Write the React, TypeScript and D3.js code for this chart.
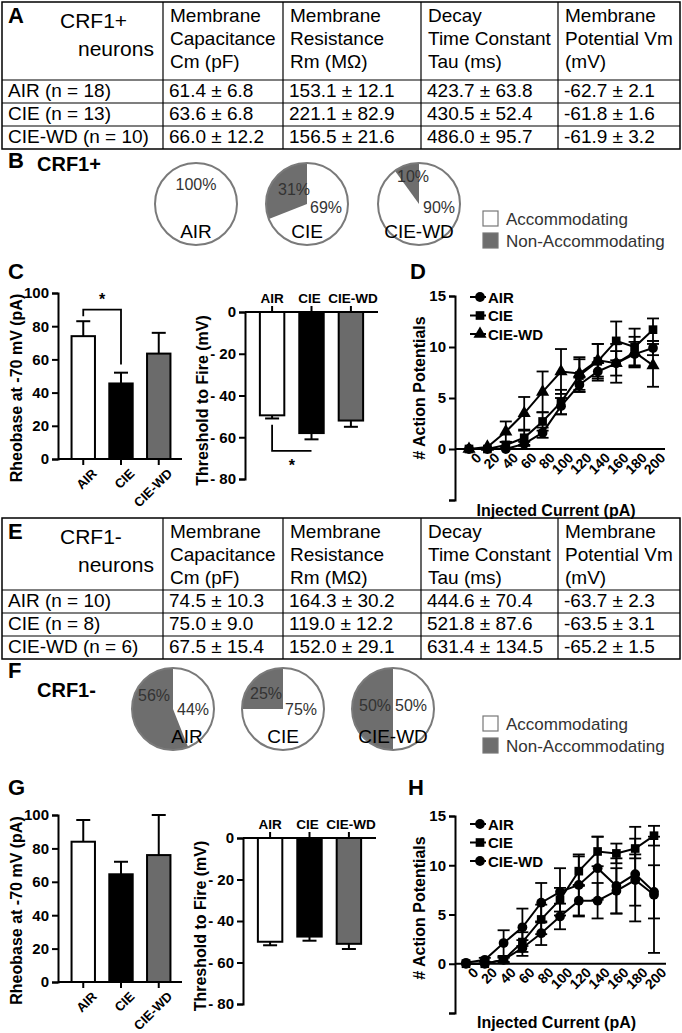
import React, { useEffect, useRef } from "react";
import * as d3 from "d3";

// ---- data ----
const groups = ["AIR", "CIE", "CIE-WD"];
const tableHeaders = [
  ["Membrane", "Capacitance", "Cm (pF)"],
  ["Membrane", "Resistance", "Rm (MΩ)"],
  ["Decay", "Time Constant", "Tau (ms)"],
  ["Membrane", "Potential Vm", "(mV)"],
];
const posRows = [
  ["AIR (n = 18)", "61.4 ± 6.8", "153.1 ± 12.1", "423.7 ± 63.8", "-62.7 ± 2.1"],
  ["CIE (n = 13)", "63.6 ± 6.8", "221.1 ± 82.9", "430.5 ± 52.4", "-61.8 ± 1.6"],
  ["CIE-WD (n = 10)", "66.0 ± 12.2", "156.5 ± 21.6", "486.0 ± 95.7", "-61.9 ± 3.2"],
];
const negRows = [
  ["AIR (n = 10)", "74.5 ± 10.3", "164.3 ± 30.2", "444.6 ± 70.4", "-63.7 ± 2.3"],
  ["CIE (n = 8)", "75.0 ± 9.0", "119.0 ± 12.2", "521.8 ± 87.6", "-63.5 ± 3.1"],
  ["CIE-WD (n = 6)", "67.5 ± 15.4", "152.0 ± 29.1", "631.4 ± 134.5", "-65.2 ± 1.5"],
];

// % non-accommodating
const posNonAcc = [0, 31, 10];
const negNonAcc = [56, 25, 50];

const rheoPos = [74, 45.5, 63.5];
const rheoPosSem = [9, 6.5, 12.5];
const threshPos = [-49.5, -58, -52];
const threshPosSem = [1.5, 3, 3];
const rheoNeg = [84, 64.5, 76];
const rheoNegSem = [13, 7.5, 24];
const threshNeg = [-50, -47.5, -51];
const threshNegSem = [1.7, 2, 2.5];

const current = [0, 20, 40, 60, 80, 100, 120, 140, 160, 180, 200];
const apPosAir = [0, 0, 0, 0.5, 1.6, 4.2, 6.3, 7.6, 8.4, 9.3, 9.9];
const apPosAirSem = [0, 0, 0, 0.2, 0.5, 0.8, 0.7, 0.9, 1.2, 1.2, 0.7];
const apPosCie = [0, 0, 0.4, 1.1, 2.7, 4.6, 7.2, 8.6, 10.6, 10.0, 11.7];
const apPosCieSem = [0, 0, 0.3, 0.7, 0.9, 1.2, 1.6, 1.7, 1.9, 1.8, 1.1];
const apPosWd = [0, 0.2, 1.7, 3.5, 5.6, 7.6, 7.4, 8.7, 8.4, 9.5, 8.2];
const apPosWdSem = [0, 0.1, 1.0, 1.6, 2.0, 2.2, 1.6, 1.6, 1.9, 1.5, 2.1];

const apNegAir = [0, 0, 0.4, 1.6, 3.1, 4.8, 6.4, 6.4, 7.4, 8.5, 7.0];
const apNegAirSem = [0, 0, 0.2, 0.8, 1.2, 1.3, 1.6, 1.8, 2.3, 2.6, 5.9];
const apNegCie = [0, 0, 0.4, 2.2, 4.5, 6.5, 9.4, 11.4, 11.2, 11.7, 13.0];
const apNegCieSem = [0, 0, 0.3, 1.0, 1.5, 1.2, 1.5, 1.5, 1.0, 1.0, 1.0];
const apNegWd = [0.1, 0.4, 2.1, 3.7, 6.2, 7.3, 8.0, 9.7, 7.9, 9.1, 7.3];
const apNegWdSem = [0.1, 0.2, 1.3, 1.9, 2.0, 2.4, 3.1, 3.2, 2.8, 4.8, 2.7];

const FONT = "'Liberation Sans', Arial, sans-serif";
const barFill = ["#fff", "#000", "#6b6b6b"];
const pieGray = "#6e6e6e";

type Sel = d3.Selection<SVGGElement, unknown, null, undefined>;
type Pt = [number, number];

function drawTable(g: Sel, top: number, headerH: number, letter: string, title: string, rows: string[][]) {
  const cols = [2, 163, 283, 421, 558, 680];
  const rowH = 23;
  const bottom = top + headerH + rowH * rows.length;
  g.append("rect").attr("x", cols[0]).attr("y", top).attr("width", cols[5] - cols[0])
    .attr("height", bottom - top).attr("fill", "none").attr("stroke", "#000").attr("stroke-width", 1.5);
  cols.slice(1, 5).forEach((x) => {
    g.append("line").attr("x1", x).attr("x2", x).attr("y1", top).attr("y2", bottom)
      .attr("stroke", "#000").attr("stroke-width", 1.2);
  });
  rows.forEach((_, i) => {
    const y = top + headerH + i * rowH;
    g.append("line").attr("x1", cols[0]).attr("x2", cols[5]).attr("y1", y).attr("y2", y)
      .attr("stroke", "#000").attr("stroke-width", 1.2);
  });
  g.append("text").attr("x", 8).attr("y", top + 21).attr("font-size", 22).attr("font-weight", "bold").text(letter);
  g.append("text").attr("x", 60).attr("y", top + 26).attr("font-size", 21).text(title);
  g.append("text").attr("x", 78).attr("y", top + 54).attr("font-size", 21).text("neurons");
  tableHeaders.forEach((lines, c) => {
    lines.forEach((l, k) => {
      g.append("text").attr("x", cols[c + 1] + 7).attr("y", top + 20 + k * 23)
        .attr("font-size", 19).text(l);
    });
  });
  rows.forEach((r, i) => {
    r.forEach((cell, c) => {
      g.append("text").attr("x", cols[c] + 6).attr("y", top + headerH + i * rowH + 17)
        .attr("font-size", 19).text(cell);
    });
  });
}

function drawPies(g: Sel, cy: number, cxs: number[], nonAcc: number[], letter: string, title: string,
  letterY: number, titleY: number, labels: { na: Pt; acc: Pt; grp: Pt }[]) {
  g.append("text").attr("x", 8).attr("y", letterY).attr("font-size", 22).attr("font-weight", "bold").text(letter);
  g.append("text").attr("x", 37).attr("y", titleY).attr("font-size", 20).attr("font-weight", "bold").text(title);
  const r = 41;
  const pie = d3.pie<number>().sort(null).value((d) => d);
  const arc = d3.arc<d3.PieArcDatum<number>>().innerRadius(0).outerRadius(r);
  groups.forEach((grp, i) => {
    const na = nonAcc[i];
    const pg = g.append("g").attr("transform", `translate(${cxs[i]},${cy})`);
    // accommodating clockwise from 12 o'clock, non-accommodating fills the rest
    const arcs = pie([100 - na, na]);
    pg.selectAll("path").data(arcs).join("path").attr("d", arc)
      .attr("fill", (_, k) => (k === 0 ? "#fff" : pieGray));
    pg.append("circle").attr("r", r).attr("fill", "none").attr("stroke", "#7a7a7a").attr("stroke-width", 2);
    const lb = labels[i];
    if (na > 0) {
      pg.append("text").attr("x", lb.na[0]).attr("y", lb.na[1]).attr("text-anchor", "middle")
        .attr("font-size", 16).attr("fill", "#333").text(`${na}%`);
    }
    pg.append("text").attr("x", lb.acc[0]).attr("y", lb.acc[1]).attr("text-anchor", "middle")
      .attr("font-size", 16).attr("fill", "#333").text(`${100 - na}%`);
    pg.append("text").attr("x", lb.grp[0]).attr("y", lb.grp[1]).attr("text-anchor", "middle")
      .attr("font-size", 19).attr("fill", "#000").text(grp);
  });
  const lx = 483;
  [["#fff", "Accommodating"], [pieGray, "Non-Accommodating"]].forEach(([fill, t], k) => {
    const y = cy + 15 + k * 22;
    g.append("rect").attr("x", lx).attr("y", y - 8).attr("width", 15).attr("height", 15)
      .attr("fill", fill).attr("stroke", "#777").attr("stroke-width", 1.2);
    g.append("text").attr("x", lx + 23).attr("y", y + 6).attr("font-size", 17).attr("fill", "#333").text(t);
  });
}

function styleAxis(a: Sel) {
  a.select(".domain").attr("stroke-width", 2);
  a.selectAll(".tick line").attr("stroke-width", 2);
  a.selectAll(".tick text").attr("font-size", 15).attr("font-weight", "bold").attr("font-family", FONT).attr("fill", "#000");
}

function drawRheo(g: Sel, top: number, bottom: number, vals: number[], sems: number[], bracket: boolean) {
  const x0 = 58;
  const y = d3.scaleLinear().domain([0, 100]).range([bottom, top]);
  const x = d3.scaleBand().domain(groups).range([64, 178]).paddingInner(0.38).paddingOuter(0.2);
  const ya = g.append("g").attr("transform", `translate(${x0},0)`)
    .call(d3.axisLeft(y).tickValues([0, 20, 40, 60, 80, 100]).tickSize(6).tickPadding(3));
  styleAxis(ya);
  groups.forEach((grp, i) => {
    const cx = x(grp)! + x.bandwidth() / 2;
    g.append("line").attr("x1", cx).attr("x2", cx).attr("y1", y(vals[i])).attr("y2", y(vals[i] + sems[i]))
      .attr("stroke", "#000").attr("stroke-width", 2);
    g.append("line").attr("x1", cx - 7).attr("x2", cx + 7).attr("y1", y(vals[i] + sems[i])).attr("y2", y(vals[i] + sems[i]))
      .attr("stroke", "#000").attr("stroke-width", 2);
    g.append("rect").attr("x", x(grp)!).attr("y", y(vals[i])).attr("width", x.bandwidth())
      .attr("height", y(0) - y(vals[i])).attr("fill", barFill[i]).attr("stroke", "#000").attr("stroke-width", 2);
  });
  const xa = g.append("g").attr("transform", `translate(0,${bottom})`)
    .call(d3.axisBottom(x).tickSize(6).tickSizeOuter(0).tickPadding(4));
  xa.select(".domain").attr("d", `M${x0},0H182`);
  styleAxis(xa);
  xa.selectAll(".tick text").attr("font-size", 13).attr("text-anchor", "end")
    .attr("transform", "translate(4,5) rotate(-45)").attr("dy", "0.35em");
  if (bracket) {
    const a = x("AIR")! + x.bandwidth() / 2;
    const c = x("CIE")! + x.bandwidth() / 2;
    g.append("path").attr("d", `M${a},${y(86)}V${y(90)}H${c}V${y(57)}`).attr("fill", "none")
      .attr("stroke", "#000").attr("stroke-width", 1.8);
    g.append("text").attr("x", (a + c) / 2).attr("y", y(90) - 5).attr("text-anchor", "middle")
      .attr("font-size", 16).attr("font-weight", "bold").text("*");
  }
  g.append("text").attr("transform", `translate(22,${(top + bottom) / 2 + 12}) rotate(-90)`)
    .attr("text-anchor", "middle").attr("font-size", 16).attr("font-weight", "bold").text("Rheobase at -70 mV (pA)");
}

function drawThresh(g: Sel, x0: number, top: number, bottom: number, vals: number[], sems: number[], bracket: boolean) {
  const y = d3.scaleLinear().domain([-80, 0]).range([bottom, top]);
  const x = d3.scaleBand().domain(groups).range([x0 + 7, x0 + 126]).paddingInner(0.38).paddingOuter(0.2);
  const ya = g.append("g").attr("transform", `translate(${x0},0)`)
    .call(d3.axisLeft(y).tickValues([0, -20, -40, -60, -80]).tickSize(6).tickPadding(3)
      .tickFormat((d) => (+d === 0 ? "0" : `- ${Math.abs(+d)}`)));
  styleAxis(ya);
  groups.forEach((grp, i) => {
    const cx = x(grp)! + x.bandwidth() / 2;
    const e = vals[i] - sems[i];
    g.append("line").attr("x1", cx).attr("x2", cx).attr("y1", y(vals[i])).attr("y2", y(e))
      .attr("stroke", "#000").attr("stroke-width", 2);
    g.append("line").attr("x1", cx - 7).attr("x2", cx + 7).attr("y1", y(e)).attr("y2", y(e))
      .attr("stroke", "#000").attr("stroke-width", 2);
    g.append("rect").attr("x", x(grp)!).attr("y", y(0)).attr("width", x.bandwidth())
      .attr("height", y(vals[i]) - y(0)).attr("fill", barFill[i]).attr("stroke", "#000").attr("stroke-width", 2);
  });
  const xa = g.append("g").attr("transform", `translate(0,${top})`)
    .call(d3.axisTop(x).tickSize(6).tickSizeOuter(0).tickPadding(3));
  xa.select(".domain").attr("d", `M${x0},0H${x0 + 133}`);
  styleAxis(xa);
  xa.selectAll(".tick text").attr("font-size", 13.5);
  xa.selectAll(".tick text").filter((d) => d === "CIE-WD").attr("dx", 2);
  xa.selectAll(".tick text").filter((d) => d === "CIE").attr("dx", -2);
  if (bracket) {
    const a = x("AIR")! + x.bandwidth() / 2;
    const c = x("CIE")! + x.bandwidth() / 2;
    g.append("path").attr("d", `M${a},${y(-54)}V${y(-66.5)}H${c}`).attr("fill", "none")
      .attr("stroke", "#000").attr("stroke-width", 1.8);
    g.append("text").attr("x", (a + c) / 2).attr("y", y(-76)).attr("text-anchor", "middle")
      .attr("font-size", 16).attr("font-weight", "bold").text("*");
  }
  g.append("text").attr("transform", `translate(${x0 - 37},${(top + bottom) / 2 + 5}) rotate(-90)`)
    .attr("text-anchor", "middle").attr("font-size", 16).attr("font-weight", "bold").text("Threshold to Fire (mV)");
}

type Series = { name: string; vals: number[]; sem: number[]; shape: d3.SymbolType };

function drawAP(g: Sel, top: number, bottom: number, xr: [number, number], legendY: number, titleGap: number, series: Series[]) {
  const x0 = 455;
  const y = d3.scaleLinear().domain([-5, 15]).range([bottom, top]);
  const x = d3.scaleLinear().domain([0, 200]).range(xr);
  const ya = g.append("g").attr("transform", `translate(${x0},0)`)
    .call(d3.axisLeft(y).tickValues([-5, 0, 5, 10, 15]).tickSize(6).tickPadding(3)
      .tickFormat((d) => (+d < 0 ? "" : String(d))));
  styleAxis(ya);
  const xa = g.append("g").attr("transform", `translate(0,${y(0)})`)
    .call(d3.axisBottom(x).tickValues(current).tickSize(0).tickPadding(6));
  xa.select(".domain").attr("d", `M${x0},0H${xr[1] + 12}`);
  styleAxis(xa);
  xa.selectAll(".tick text").attr("font-size", 14).attr("text-anchor", "end")
    .attr("transform", "translate(5,2) rotate(-45)").attr("dy", "0.35em");
  const line = d3.line<number>().x((_, i) => x(current[i])).y((d) => y(d));
  series.forEach((s) => {
    current.forEach((c, i) => {
      if (s.sem[i] < 0.15) return;
      const cx = x(c);
      [s.vals[i] + s.sem[i], s.vals[i] - s.sem[i]].forEach((v) => {
        g.append("line").attr("x1", cx).attr("x2", cx).attr("y1", y(s.vals[i])).attr("y2", y(v))
          .attr("stroke", "#000").attr("stroke-width", 1.8);
        g.append("line").attr("x1", cx - 6).attr("x2", cx + 6).attr("y1", y(v)).attr("y2", y(v))
          .attr("stroke", "#000").attr("stroke-width", 1.8);
      });
    });
  });
  series.forEach((s) => {
    g.append("path").attr("d", line(s.vals)).attr("fill", "none").attr("stroke", "#000").attr("stroke-width", 2);
    g.selectAll(null).data(s.vals).join("path")
      .attr("transform", (d, i) => `translate(${x(current[i])},${y(d)})`)
      .attr("d", d3.symbol(s.shape, 75)).attr("fill", "#000");
  });
  series.forEach((s, k) => {
    const ly = legendY + k * 18.5;
    g.append("line").attr("x1", 470).attr("x2", 486).attr("y1", ly).attr("y2", ly).attr("stroke", "#000").attr("stroke-width", 2);
    g.append("path").attr("transform", `translate(480,${ly})`).attr("d", d3.symbol(s.shape, 75)).attr("fill", "#000");
    g.append("text").attr("x", 488).attr("y", ly + 5.5).attr("font-size", 15).attr("font-weight", "bold").text(s.name);
  });
  g.append("text").attr("x", (x0 + xr[1]) / 2 + 2).attr("y", bottom + titleGap).attr("text-anchor", "middle")
    .attr("font-size", 16).attr("font-weight", "bold").text("Injected Current (pA)");
  g.append("text").attr("transform", `translate(425,${top + 92}) rotate(-90)`)
    .attr("text-anchor", "middle").attr("font-size", 16).attr("font-weight", "bold").text("# Action Potentials");
}

export default function App() {
  const ref = useRef<SVGSVGElement>(null);
  useEffect(() => {
    const svg = d3.select(ref.current);
    svg.selectAll("*").remove();
    const g = svg.append("g") as unknown as Sel;

    drawTable(g, 2, 78, "A", "CRF1+", posRows);
    drawPies(g, 204, [196, 307, 419], posNonAcc, "B", "CRF1+", 168, 171, [
      { na: [0, -14], acc: [0, -14], grp: [0, 34] },
      { na: [-13, -9], acc: [19, 9], grp: [0, 34] },
      { na: [-6, -22], acc: [20, 9], grp: [0, 34] },
    ]);

    g.append("text").attr("x", 8).attr("y", 279).attr("font-size", 22).attr("font-weight", "bold").text("C");
    drawRheo(g, 293, 459, rheoPos, rheoPosSem, true);
    drawThresh(g, 245, 312, 479, threshPos, threshPosSem, true);
    g.append("text").attr("x", 410).attr("y", 279).attr("font-size", 22).attr("font-weight", "bold").text("D");
    drawAP(g, 296, 500, [469, 653], 297, 16, [
      { name: "AIR", vals: apPosAir, sem: apPosAirSem, shape: d3.symbolCircle },
      { name: "CIE", vals: apPosCie, sem: apPosCieSem, shape: d3.symbolSquare },
      { name: "CIE-WD", vals: apPosWd, sem: apPosWdSem, shape: d3.symbolTriangle },
    ]);

    drawTable(g, 518, 72, "E", "CRF1-", negRows);
    drawPies(g, 709, [173, 283, 393], negNonAcc, "F", "CRF1-", 678, 697, [
      { na: [-19, -8], acc: [20, 6], grp: [14, 34] },
      { na: [-17, -10], acc: [18, 6], grp: [0, 34] },
      { na: [-18, 2], acc: [18, 2], grp: [0, 34] },
    ]);

    g.append("text").attr("x", 8).attr("y", 795).attr("font-size", 22).attr("font-weight", "bold").text("G");
    drawRheo(g, 815, 982, rheoNeg, rheoNegSem, false);
    drawThresh(g, 243, 838, 1004, threshNeg, threshNegSem, false);
    g.append("text").attr("x", 408).attr("y", 795).attr("font-size", 22).attr("font-weight", "bold").text("H");
    drawAP(g, 816, 1013, [466, 654], 824, 15, [
      { name: "AIR", vals: apNegAir, sem: apNegAirSem, shape: d3.symbolCircle },
      { name: "CIE", vals: apNegCie, sem: apNegCieSem, shape: d3.symbolSquare },
      { name: "CIE-WD", vals: apNegWd, sem: apNegWdSem, shape: d3.symbolCircle },
    ]);
  }, []);
  return (
    <svg ref={ref} width={682} height={1033} fontFamily={FONT}
      style={{ position: "absolute", left: 0, top: 0, background: "#fff" }} />
  );
}
